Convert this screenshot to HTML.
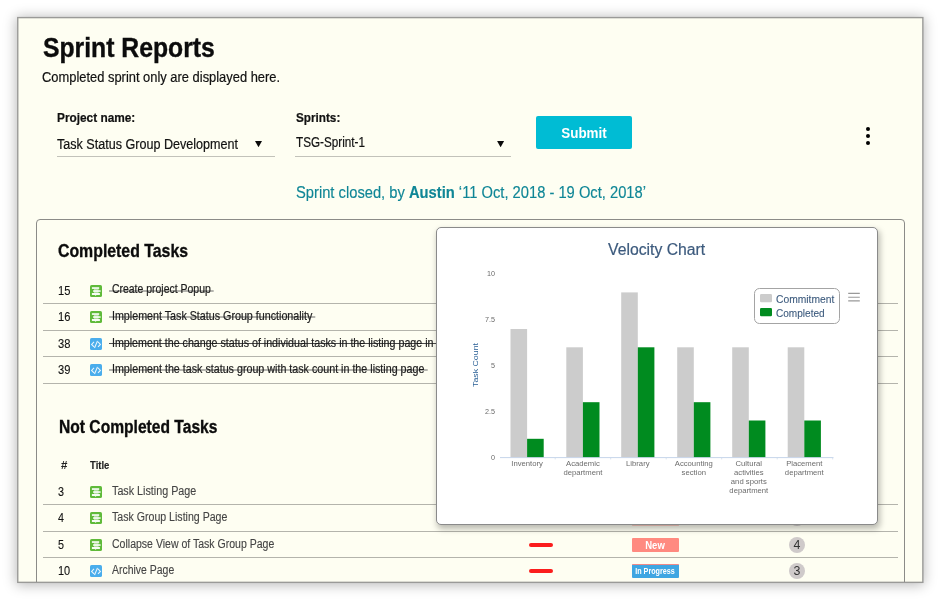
<!DOCTYPE html>
<html lang="en">
<head>
<meta charset="utf-8">
<title>Sprint Reports</title>
<style>
html,body{margin:0;padding:0;background:#fff;}
body{width:941px;height:601px;position:relative;overflow:hidden;font-family:"Liberation Sans",sans-serif;}
.t{position:absolute;white-space:pre;transform-origin:0 0;}
.abs{position:absolute;}
.card{left:17px;top:17px;width:906px;height:566px;background:#fefef2;box-shadow:0 1px 12px 1px rgba(0,0,0,.28);}
.panel{left:36px;top:219px;width:867px;height:370px;border:1px solid #8b8b88;border-radius:4px;}
.clip{left:18px;top:18px;width:904px;height:564px;overflow:hidden;}
.hl{height:1px;background:#b4b4ac;left:43px;width:855px;}
.ul{height:1px;background:#c2c2ba;}
.btn{left:536px;top:116px;width:96px;height:33px;background:#00bcd4;border-radius:2px;}
.dot{width:4px;height:4px;border-radius:50%;background:#000;left:866px;}
.tri{width:7px;height:6.2px;background:#0a0a0a;clip-path:polygon(0 0,100% 0,50% 100%);}
.ic{width:12px;height:12px;border-radius:1.6px;left:90px;}
.ic.g{background:#5fba3a;}
.ic.b{background:#4aadec;}
.ic svg{position:absolute;left:0;top:0;}
.pri{left:529.3px;width:23.7px;height:4px;border-radius:2px;background:#fb1d1d;}
.badge{left:632px;width:47px;height:14px;border-radius:1px;}
.cnt{left:789px;width:16px;height:16px;border-radius:50%;background:#cfcaca;}
.popup{left:436px;top:227px;width:440px;height:296px;border:1px solid #8a8a8a;border-radius:5px;background:#fff;box-shadow:1.5px 3.5px 6px rgba(0,0,0,.27);}
del,.st{text-decoration:line-through;}
</style>
</head>
<body>
<main>
<div class="abs card"></div>
<svg class="abs" style="left:0;top:0;" width="941" height="601" viewBox="0 0 941 601"><rect x="17.75" y="17.6" width="905.1" height="564.75" fill="none" stroke="#9a9a98" stroke-width="1.4"/></svg>

<header>
<span class="t" style="left:42.60px;top:33px;font-size:28.2px;line-height:28.2px;font-weight:700;color:#0c0c0c;transform:scaleX(0.8776);-webkit-text-stroke:0.4px;">Sprint Reports</span>
<span class="t" style="left:42.10px;top:70px;font-size:14.4px;line-height:14.4px;color:#111;transform:scaleX(0.8965);-webkit-text-stroke:0.2px;">Completed sprint only are displayed here.</span>
</header>

<!-- filter form: project / sprint selects, submit, overflow menu -->
<form onsubmit="return false">
<div class="abs ul" style="left:57px;top:156px;width:218px;"></div>
<div class="abs ul" style="left:295px;top:156px;width:216px;"></div>
<div class="abs tri" style="left:255px;top:141px;"></div>
<div class="abs tri" style="left:497.1px;top:141px;"></div>
<div class="abs btn"></div>
<div class="abs dot" style="top:127px;"></div>
<div class="abs dot" style="top:134px;"></div>
<div class="abs dot" style="top:141.3px;"></div>
<span class="t" style="left:56.70px;top:111px;font-size:13.7px;line-height:13.7px;font-weight:700;color:#111;transform:scaleX(0.8649);-webkit-text-stroke:0.22px;">Project name:</span>
<span class="t" style="left:56.60px;top:137px;font-size:14px;line-height:14px;color:#111;transform:scaleX(0.8981);-webkit-text-stroke:0.2px;">Task Status Group Development</span>
<span class="t" style="left:295.90px;top:111px;font-size:13.7px;line-height:13.7px;font-weight:700;color:#111;transform:scaleX(0.8566);-webkit-text-stroke:0.22px;">Sprints:</span>
<span class="t" style="left:295.80px;top:135px;font-size:14.2px;line-height:14.2px;color:#111;transform:scaleX(0.8256);-webkit-text-stroke:0.2px;">TSG-Sprint-1</span>
<span class="t" style="left:584.20px;top:126px;font-size:14px;line-height:14px;font-weight:700;color:#fff;transform:translateX(-50%) scaleX(0.9588);transform-origin:50% 0;">Submit</span>
</form>

<p style="margin:0">
<span class="t" style="left:295.70px;top:185px;font-size:15.8px;line-height:15.8px;color:#0f8696;transform:scaleX(0.9321);-webkit-text-stroke:0.15px;">Sprint closed, by <b>Austin</b> ‘11 Oct, 2018 - 19 Oct, 2018’</span>
</p>

<div class="abs clip" style="left:18px;top:18px;"><div class="abs panel" style="left:18px;top:201px;"></div></div>

<!-- completed tasks -->
<section>
<div class="abs hl" style="top:303px;"></div>
<div class="abs hl" style="top:330px;"></div>
<div class="abs hl" style="top:356px;"></div>
<div class="abs hl" style="top:383px;"></div>
<div class="abs ic g" style="top:285px;"><svg width="12" height="12" viewBox="0 0 12 12"><path d="M4 3.8h4.6v4.3H4z" fill="#fff" fill-opacity=".5"/><path d="M1.9 2.2h7.3v1.7H1.9z" fill="#fff" fill-opacity=".95"/><path d="M3.1 5.1h7.5v1.9H3.1z" fill="#fff" fill-opacity=".8"/><path d="M1.9 8h8v1.9H6.5l-.9.9-.9-.9H1.9z" fill="#fff" fill-opacity=".95"/></svg></div>
<div class="abs ic g" style="top:311.4px;"><svg width="12" height="12" viewBox="0 0 12 12"><path d="M4 3.8h4.6v4.3H4z" fill="#fff" fill-opacity=".5"/><path d="M1.9 2.2h7.3v1.7H1.9z" fill="#fff" fill-opacity=".95"/><path d="M3.1 5.1h7.5v1.9H3.1z" fill="#fff" fill-opacity=".8"/><path d="M1.9 8h8v1.9H6.5l-.9.9-.9-.9H1.9z" fill="#fff" fill-opacity=".95"/></svg></div>
<div class="abs ic b" style="top:338px;"><svg width="12" height="12" viewBox="0 0 12 12"><path d="M4 3.9 1.6 6.4 4 8.9M8 3.9 10.4 6.4 8 8.9M7.5 2.9 4.5 10" fill="none" stroke="#fff" stroke-opacity=".88" stroke-width="1.1"/></svg></div>
<div class="abs ic b" style="top:364.4px;"><svg width="12" height="12" viewBox="0 0 12 12"><path d="M4 3.9 1.6 6.4 4 8.9M8 3.9 10.4 6.4 8 8.9M7.5 2.9 4.5 10" fill="none" stroke="#fff" stroke-opacity=".88" stroke-width="1.1"/></svg></div>
<span class="t" style="left:58.40px;top:241px;font-size:19px;line-height:19px;font-weight:700;color:#0c0c0c;transform:scaleX(0.8338);-webkit-text-stroke:0.35px;">Completed Tasks</span>
<span class="t" style="left:57.90px;top:285px;font-size:12.4px;line-height:12.4px;color:#111;transform:scaleX(0.8988);-webkit-text-stroke:0.1px;">15</span>
<span class="t" style="left:109.40px;top:283px;font-size:12.1px;line-height:12.1px;color:#1c1c1c;transform:scaleX(0.8652);background:linear-gradient(#b4b4ae,#b4b4ae) 0 7px/100% 2px no-repeat;-webkit-text-stroke:0.2px;"> Create project Popup </span>
<span class="t" style="left:57.90px;top:311px;font-size:12.4px;line-height:12.4px;color:#111;transform:scaleX(0.8988);-webkit-text-stroke:0.1px;">16</span>
<span class="t" style="left:109.40px;top:310px;font-size:12.1px;line-height:12.1px;color:#1c1c1c;transform:scaleX(0.8853);background:linear-gradient(#b4b4ae,#b4b4ae) 0 6px/100% 2px no-repeat;-webkit-text-stroke:0.2px;"> Implement Task Status Group functionality </span>
<span class="t" style="left:57.90px;top:338px;font-size:12.4px;line-height:12.4px;color:#111;transform:scaleX(0.8988);-webkit-text-stroke:0.1px;">38</span>
<span class="t" style="left:109.40px;top:337px;font-size:12.1px;line-height:12.1px;color:#1c1c1c;transform:scaleX(0.8823);background:linear-gradient(#4a4a4a,#4a4a4a) 0 6px/100% 1px no-repeat;-webkit-text-stroke:0.2px;"> Implement the change status of individual tasks in the listing page in </span>
<span class="t" style="left:57.90px;top:364px;font-size:12.4px;line-height:12.4px;color:#111;transform:scaleX(0.8988);-webkit-text-stroke:0.1px;">39</span>
<span class="t" style="left:109.40px;top:363px;font-size:12.1px;line-height:12.1px;color:#1c1c1c;transform:scaleX(0.8853);background:linear-gradient(#b4b4ae,#b4b4ae) 0 6px/100% 2px no-repeat;-webkit-text-stroke:0.2px;"> Implement the task status group with task count in the listing page </span>
</section>

<!-- not completed tasks -->
<section>
<div class="abs hl" style="top:504px;"></div>
<div class="abs hl" style="top:531px;"></div>
<div class="abs hl" style="top:557px;"></div>
<div class="abs ic g" style="top:486px;"><svg width="12" height="12" viewBox="0 0 12 12"><path d="M4 3.8h4.6v4.3H4z" fill="#fff" fill-opacity=".5"/><path d="M1.9 2.2h7.3v1.7H1.9z" fill="#fff" fill-opacity=".95"/><path d="M3.1 5.1h7.5v1.9H3.1z" fill="#fff" fill-opacity=".8"/><path d="M1.9 8h8v1.9H6.5l-.9.9-.9-.9H1.9z" fill="#fff" fill-opacity=".95"/></svg></div>
<div class="abs ic g" style="top:512.4px;"><svg width="12" height="12" viewBox="0 0 12 12"><path d="M4 3.8h4.6v4.3H4z" fill="#fff" fill-opacity=".5"/><path d="M1.9 2.2h7.3v1.7H1.9z" fill="#fff" fill-opacity=".95"/><path d="M3.1 5.1h7.5v1.9H3.1z" fill="#fff" fill-opacity=".8"/><path d="M1.9 8h8v1.9H6.5l-.9.9-.9-.9H1.9z" fill="#fff" fill-opacity=".95"/></svg></div>
<div class="abs ic g" style="top:539px;"><svg width="12" height="12" viewBox="0 0 12 12"><path d="M4 3.8h4.6v4.3H4z" fill="#fff" fill-opacity=".5"/><path d="M1.9 2.2h7.3v1.7H1.9z" fill="#fff" fill-opacity=".95"/><path d="M3.1 5.1h7.5v1.9H3.1z" fill="#fff" fill-opacity=".8"/><path d="M1.9 8h8v1.9H6.5l-.9.9-.9-.9H1.9z" fill="#fff" fill-opacity=".95"/></svg></div>
<div class="abs ic b" style="top:565.4px;"><svg width="12" height="12" viewBox="0 0 12 12"><path d="M4 3.9 1.6 6.4 4 8.9M8 3.9 10.4 6.4 8 8.9M7.5 2.9 4.5 10" fill="none" stroke="#fff" stroke-opacity=".88" stroke-width="1.1"/></svg></div>
<div class="abs pri" style="top:542.6px;"></div>
<div class="abs pri" style="top:569px;"></div>
<div class="abs badge" style="top:511px;background:#ff8a80;"></div>
<div class="abs badge" style="top:525px;height:1px;background:rgba(255,138,128,.4);"></div>
<div class="abs badge" style="top:538px;background:#ff8a80;"></div>
<div class="abs badge" style="top:564px;background:#3fa6e2;border-top:1px solid #f08a88;box-sizing:border-box;"></div>
<div class="abs cnt" style="top:510px;"></div>
<div class="abs cnt" style="top:537px;"></div>
<div class="abs cnt" style="top:563px;"></div>
<span class="t" style="left:59.40px;top:418px;font-size:18.8px;line-height:18.8px;font-weight:700;color:#0c0c0c;transform:scaleX(0.8314);-webkit-text-stroke:0.35px;">Not Completed Tasks</span>
<span class="t" style="left:60.70px;top:460px;font-size:10.5px;line-height:10.5px;font-weight:700;color:#222;transform:scaleX(1.0952);">#</span>
<span class="t" style="left:90.20px;top:460px;font-size:11.2px;line-height:11.2px;font-weight:700;color:#222;transform:scaleX(0.8510);-webkit-text-stroke:0.15px;">Title</span>
<span class="t" style="left:58.40px;top:486px;font-size:12.4px;line-height:12.4px;color:#111;transform:scaleX(0.8688);-webkit-text-stroke:0.1px;">3</span>
<span class="t" style="left:112.00px;top:485px;font-size:12.3px;line-height:12.3px;color:#444;transform:scaleX(0.8746);-webkit-text-stroke:0.12px;">Task Listing Page</span>
<span class="t" style="left:58.40px;top:512px;font-size:12.4px;line-height:12.4px;color:#111;transform:scaleX(0.8688);-webkit-text-stroke:0.1px;">4</span>
<span class="t" style="left:112.00px;top:511px;font-size:12.3px;line-height:12.3px;color:#444;transform:scaleX(0.8613);-webkit-text-stroke:0.12px;">Task Group Listing Page</span>
<span class="t" style="left:58.40px;top:539px;font-size:12.4px;line-height:12.4px;color:#111;transform:scaleX(0.8688);-webkit-text-stroke:0.1px;">5</span>
<span class="t" style="left:112.00px;top:538px;font-size:12.3px;line-height:12.3px;color:#444;transform:scaleX(0.8561);-webkit-text-stroke:0.12px;">Collapse View of Task Group Page</span>
<span class="t" style="left:58.40px;top:565px;font-size:12.4px;line-height:12.4px;color:#111;transform:scaleX(0.8843);-webkit-text-stroke:0.1px;">10</span>
<span class="t" style="left:112.00px;top:564px;font-size:12.3px;line-height:12.3px;color:#444;transform:scaleX(0.8504);-webkit-text-stroke:0.12px;">Archive Page</span>
<span class="t" style="left:655.30px;top:540px;font-size:10.5px;line-height:10.5px;font-weight:700;color:#fff;transform:translateX(-50%) scaleX(0.9077);transform-origin:50% 0;">New</span>
<span class="t" style="left:655.20px;top:567px;font-size:8.5px;line-height:8.5px;font-weight:700;color:#fff;transform:translateX(-50%) scaleX(0.8444);transform-origin:50% 0;">In Progress</span>
<span class="t" style="left:797.00px;top:539px;font-size:12.8px;line-height:12.8px;color:#333;transform:translateX(-50%) scaleX(0.9684);transform-origin:50% 0;">4</span>
<span class="t" style="left:797.00px;top:565px;font-size:12.8px;line-height:12.8px;color:#333;transform:translateX(-50%) scaleX(0.9684);transform-origin:50% 0;">3</span>
</section>

<!-- velocity chart popup -->
<aside>
<div class="abs popup"></div>
<svg class="abs" style="left:0;top:0;" width="941" height="601" viewBox="0 0 941 601">
<line x1="500" y1="457.6" x2="833.5" y2="457.6" stroke="#c6d6ea" stroke-width="1"/>
<path d="M555.2 458.1v1.3M610.7 458.1v1.3M666.2 458.1v1.3M721.7 458.1v1.3M777.2 458.1v1.3M832.7 458.1v1.3" stroke="#d4e0ee" stroke-width="1" fill="none"/>
<rect x="510.5" y="329.0" width="16.6" height="128.1" fill="#cccccc"/>
<rect x="527.1" y="438.8" width="16.6" height="18.3" fill="#008b1f"/>
<rect x="566.3" y="347.3" width="16.6" height="109.8" fill="#cccccc"/>
<rect x="582.9" y="402.2" width="16.6" height="54.9" fill="#008b1f"/>
<rect x="621.2" y="292.4" width="16.6" height="164.7" fill="#cccccc"/>
<rect x="637.8" y="347.3" width="16.6" height="109.8" fill="#008b1f"/>
<rect x="677.2" y="347.3" width="16.6" height="109.8" fill="#cccccc"/>
<rect x="693.8" y="402.2" width="16.6" height="54.9" fill="#008b1f"/>
<rect x="732.2" y="347.3" width="16.6" height="109.8" fill="#cccccc"/>
<rect x="748.8" y="420.5" width="16.6" height="36.6" fill="#008b1f"/>
<rect x="787.7" y="347.3" width="16.6" height="109.8" fill="#cccccc"/>
<rect x="804.3" y="420.5" width="16.6" height="36.6" fill="#008b1f"/>
<rect x="754.5" y="288.5" width="85" height="35" rx="5" fill="#fff" stroke="#a4a4a4"/>
<rect x="760" y="294" width="12" height="8.2" rx="1.3" fill="#cccccc"/>
<rect x="760" y="308" width="12" height="8.2" rx="1.3" fill="#008b1f"/>
<path d="M848.2 293.4h11.6M848.2 297.2h11.6M848.2 300.9h11.6" stroke="#999" stroke-width="1.1"/>
<text transform="translate(477.9 365) rotate(-90)" text-anchor="middle" font-family="&quot;Liberation Sans&quot;,sans-serif" font-size="7.5" fill="#2a6096" textLength="44" lengthAdjust="spacingAndGlyphs">Task Count</text>
</svg>
<span class="t" style="left:608.00px;top:242px;font-size:16px;line-height:16px;color:#3c5a7d;transform:scaleX(0.9846);-webkit-text-stroke:0.2px;">Velocity Chart</span>
<span class="t" style="left:775.70px;top:294px;font-size:10.5px;line-height:10.5px;color:#3c5a7d;transform:scaleX(0.9796);-webkit-text-stroke:0.1px;">Commitment</span>
<span class="t" style="left:775.70px;top:308px;font-size:10.5px;line-height:10.5px;color:#3c5a7d;transform:scaleX(0.9590);-webkit-text-stroke:0.1px;">Completed</span>
<span class="t" style="left:495.00px;top:270px;font-size:7.2px;line-height:7.2px;color:#6a6a6a;transform:translateX(-100%) scaleX(1.0000);transform-origin:100% 0;">10</span>
<span class="t" style="left:495.00px;top:316px;font-size:7.2px;line-height:7.2px;color:#6a6a6a;transform:translateX(-100%) scaleX(1.0000);transform-origin:100% 0;">7.5</span>
<span class="t" style="left:495.00px;top:362px;font-size:7.2px;line-height:7.2px;color:#6a6a6a;transform:translateX(-100%) scaleX(1.0000);transform-origin:100% 0;">5</span>
<span class="t" style="left:495.00px;top:408px;font-size:7.2px;line-height:7.2px;color:#6a6a6a;transform:translateX(-100%) scaleX(1.0000);transform-origin:100% 0;">2.5</span>
<span class="t" style="left:495.00px;top:454px;font-size:7.2px;line-height:7.2px;color:#6a6a6a;transform:translateX(-100%) scaleX(1.0000);transform-origin:100% 0;">0</span>
<span class="t" style="left:527.10px;top:460px;font-size:7.7px;line-height:7.7px;color:#6c6c6c;transform:translateX(-50%) scaleX(1.0000);transform-origin:50% 0;">Inventory</span>
<span class="t" style="left:582.90px;top:460px;font-size:7.7px;line-height:7.7px;color:#6c6c6c;transform:translateX(-50%) scaleX(1.0000);transform-origin:50% 0;">Academic</span>
<span class="t" style="left:582.90px;top:469px;font-size:7.7px;line-height:7.7px;color:#6c6c6c;transform:translateX(-50%) scaleX(1.0000);transform-origin:50% 0;">department</span>
<span class="t" style="left:637.80px;top:460px;font-size:7.7px;line-height:7.7px;color:#6c6c6c;transform:translateX(-50%) scaleX(1.0000);transform-origin:50% 0;">Library</span>
<span class="t" style="left:693.80px;top:460px;font-size:7.7px;line-height:7.7px;color:#6c6c6c;transform:translateX(-50%) scaleX(1.0000);transform-origin:50% 0;">Accounting</span>
<span class="t" style="left:693.80px;top:469px;font-size:7.7px;line-height:7.7px;color:#6c6c6c;transform:translateX(-50%) scaleX(1.0000);transform-origin:50% 0;">section</span>
<span class="t" style="left:748.80px;top:460px;font-size:7.7px;line-height:7.7px;color:#6c6c6c;transform:translateX(-50%) scaleX(1.0000);transform-origin:50% 0;">Cultural</span>
<span class="t" style="left:748.80px;top:469px;font-size:7.7px;line-height:7.7px;color:#6c6c6c;transform:translateX(-50%) scaleX(1.0000);transform-origin:50% 0;">activities</span>
<span class="t" style="left:748.80px;top:478px;font-size:7.7px;line-height:7.7px;color:#6c6c6c;transform:translateX(-50%) scaleX(1.0000);transform-origin:50% 0;">and sports</span>
<span class="t" style="left:748.80px;top:487px;font-size:7.7px;line-height:7.7px;color:#6c6c6c;transform:translateX(-50%) scaleX(1.0000);transform-origin:50% 0;">department</span>
<span class="t" style="left:804.30px;top:460px;font-size:7.7px;line-height:7.7px;color:#6c6c6c;transform:translateX(-50%) scaleX(1.0000);transform-origin:50% 0;">Placement</span>
<span class="t" style="left:804.30px;top:469px;font-size:7.7px;line-height:7.7px;color:#6c6c6c;transform:translateX(-50%) scaleX(1.0000);transform-origin:50% 0;">department</span>
</aside>
</main>
</body>
</html>
